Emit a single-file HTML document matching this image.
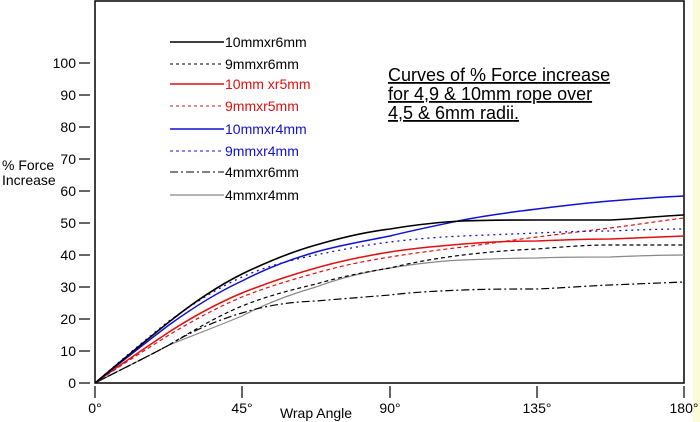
<!DOCTYPE html><html><head><meta charset="utf-8"><style>body{margin:0;background:#fff}svg{display:block}text{font-family:"Liberation Sans",Arial,sans-serif}</style></head><body>
<svg id="s" width="700" height="422" viewBox="0 0 700 422" xmlns="http://www.w3.org/2000/svg">
<rect x="0" y="0" width="700" height="422" fill="#fff"/>
<rect x="693" y="0" width="7" height="422" fill="#fcfbd8"/>
<rect x="95" y="1" width="589" height="382" fill="none" stroke="#000" stroke-width="1.5"/>
<g font-size="14" fill="#000" text-anchor="end">
<text x="76" y="388">0</text><text x="76" y="356">10</text><text x="76" y="324">20</text><text x="76" y="292">30</text><text x="76" y="260">40</text><text x="76" y="228">50</text><text x="76" y="196">60</text><text x="76" y="164">70</text><text x="76" y="132">80</text><text x="76" y="100">90</text><text x="76" y="68">100</text>
</g>
<g stroke="#000" stroke-width="1.2">
<line x1="79" y1="383" x2="90" y2="383"/><line x1="79" y1="351" x2="90" y2="351"/><line x1="79" y1="319" x2="90" y2="319"/><line x1="79" y1="287" x2="90" y2="287"/><line x1="79" y1="255" x2="90" y2="255"/><line x1="79" y1="223" x2="90" y2="223"/><line x1="79" y1="191" x2="90" y2="191"/><line x1="79" y1="159" x2="90" y2="159"/><line x1="79" y1="127" x2="90" y2="127"/><line x1="79" y1="95" x2="90" y2="95"/><line x1="79" y1="63" x2="90" y2="63"/>
<line x1="95" y1="386" x2="95" y2="398"/><line x1="242" y1="386" x2="242" y2="398"/><line x1="390" y1="386" x2="390" y2="398"/><line x1="537" y1="386" x2="537" y2="398"/><line x1="684" y1="386" x2="684" y2="398"/>
</g>
<g font-size="14" text-anchor="middle">
<text x="95" y="413">0°</text><text x="242" y="413">45°</text><text x="390" y="413">90°</text><text x="537" y="413">135°</text><text x="684" y="413">180°</text>
<text x="316" y="418">Wrap Angle</text>
</g>
<text x="2" y="170" font-size="14">% Force</text><text x="2" y="185" font-size="14">Increase</text>
<g font-size="18" fill="#000">
<text x="388" y="81" text-decoration="underline">Curves of % Force increase</text>
<text x="388" y="100" text-decoration="underline">for 4,9 &amp; 10mm rope over</text>
<text x="388" y="119" text-decoration="underline">4,5 &amp; 6mm radii.</text>
</g>
<g font-size="14">
<line x1="170" y1="42" x2="224" y2="42" stroke="#000" stroke-width="1.5"/><text x="225" y="47">10mmxr6mm</text>
<line x1="170" y1="64" x2="224" y2="64" stroke="#000" stroke-dasharray="3,3"/><text x="225" y="69">9mmxr6mm</text>
<line x1="170" y1="84" x2="224" y2="84" stroke="#e01010" stroke-width="1.5"/><text x="225" y="89" fill="#e01010">10mm xr5mm</text>
<line x1="170" y1="106" x2="224" y2="106" stroke="#e01010" stroke-dasharray="3,3"/><text x="225" y="111" fill="#e01010">9mmxr5mm</text>
<line x1="170" y1="129" x2="224" y2="129" stroke="#1010d0" stroke-width="1.5"/><text x="225" y="134" fill="#1010d0">10mmxr4mm</text>
<line x1="170" y1="151" x2="224" y2="151" stroke="#1010d0" stroke-dasharray="3,3"/><text x="225" y="156" fill="#1010d0">9mmxr4mm</text>
<line x1="170" y1="172" x2="224" y2="172" stroke="#000" stroke-dasharray="8,3,2,3"/><text x="225" y="177">4mmxr6mm</text>
<line x1="170" y1="195" x2="224" y2="195" stroke="#888" stroke-width="1.2"/><text x="225" y="200">4mmxr4mm</text>
</g>
<g fill="none" stroke-linejoin="round">
<path stroke="#888" stroke-width="1.2" d="M95,383 C120,370 145,358 169,345 C194,335 218,326 242,316 C267,303 291,294 316,287 C340,278 365,272 390,268 C414,264 439,261 463,260 C488,259 512,258 537,258 C561,257 586,257 610,257 C635,256 659,255 684,255"/>
<path stroke="#000" stroke-width="1.2" stroke-dasharray="8,3,2,3" d="M95,383 C120,370 145,358 169,345 C194,330 218,320 242,313 C267,305 291,302 316,301 C340,299 365,297 390,295 C414,292 439,291 463,290 C488,289 512,289 537,289 C561,288 586,286 610,285 C635,284 659,283 684,282"/>
<path stroke="#000" stroke-width="1.2" stroke-dasharray="4,3" d="M95,383 C120,370 145,358 169,345 C194,330 218,316 242,306 C267,296 291,290 316,284 C340,277 365,272 390,268 C414,262 439,258 463,255 C488,252 512,250 537,249 C561,247 586,245 610,245 C635,245 659,245 684,245"/>
<path stroke="#e01010" stroke-width="1.2" stroke-dasharray="4,3" d="M95,383 C120,366 145,350 169,335 C194,320 218,307 242,297 C267,287 291,280 316,273 C340,266 365,261 390,257 C414,253 439,250 463,247 C488,244 512,240 537,237 C561,234 586,231 610,228 C635,225 659,221 684,218"/>
<path stroke="#e01010" stroke-width="1.5" d="M95,383 C120,365 145,348 169,332 C194,316 218,303 242,293 C267,283 291,275 316,268 C340,261 365,256 390,252 C414,248 439,246 463,244 C488,242 512,241 537,241 C561,240 586,239 610,239 C635,238 659,237 684,236"/>
<path stroke="#1010d0" stroke-width="1.3" stroke-dasharray="2,4" d="M95,383 C120,361 145,340 169,321 C194,303 218,288 242,277 C267,266 291,260 316,255 C340,250 365,245 390,242 C414,239 439,237 463,236 C488,235 512,234 537,233 C561,232 586,231 610,231 C635,230 659,229 684,229"/>
<path stroke="#1010d0" stroke-width="1.5" d="M95,383 C120,363 145,343 169,325 C194,307 218,292 242,281 C267,268 291,259 316,252 C340,245 365,241 390,236 C414,230 439,225 463,220 C488,215 512,212 537,209 C561,206 586,203 610,201 C635,199 659,197 684,196"/>
<path stroke="#000" stroke-width="1.6" d="M95,383 C120,362 145,341 169,322 C194,302 218,286 242,274 C267,262 291,252 316,245 C340,238 365,232 390,229 C414,225 439,222 463,221 C488,220 512,220 537,220 C561,220 586,220 610,220 C635,219 659,216 684,215"/>
</g>
</svg>
</body></html>
